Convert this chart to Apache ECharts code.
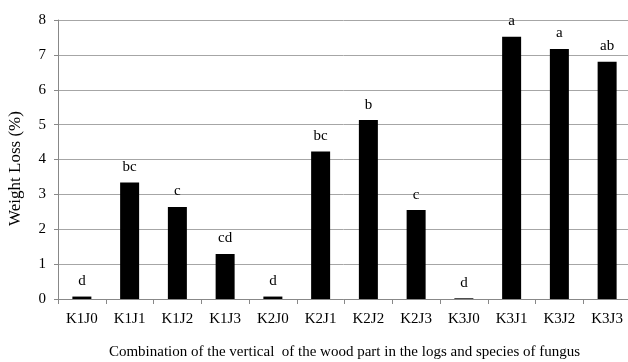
<!DOCTYPE html>
<html>
<head>
<meta charset="utf-8">
<script src="https://cdn.jsdelivr.net/npm/echarts@6/dist/echarts.min.js"></script>
<style>html,body{margin:0;padding:0;background:#fff;}#c{width:628px;height:362px;}</style>
</head>
<body>
<div id="c"></div>
<script>
var categories = ['K1J0','K1J1','K1J2','K1J3','K2J0','K2J1','K2J2','K2J3','K3J0','K3J1','K3J2','K3J3'];
var weightLoss = [0.07, 3.34, 2.64, 1.29, 0.07, 4.23, 5.13, 2.55, 0.02, 7.52, 7.17, 6.80];
var letters = ['d','bc','c','cd','d','bc','b','c','d','a','a','ab'];
var yTicks = [0, 1, 2, 3, 4, 5, 6, 7, 8];

var font = 'Liberation Serif';
var chart = echarts.init(document.getElementById('c'), null, {renderer: 'canvas'});
chart.setOption({
  animation: false,
  grid: {left: 58, right: -3, top: 20, bottom: 63, containLabel: false, outerBoundsMode: 'none'},
  xAxis: {
    type: 'category',
    data: categories,
    name: 'Combination of the vertical  of the wood part in the logs and species of fungus',
    nameLocation: 'middle',
    nameGap: 46,
    nameTextStyle: {fontFamily: font, fontSize: 15, color: '#000'},
    axisLine: {lineStyle: {color: '#888', width: 1}},
    axisTick: {show: true, length: 5, lineStyle: {color: '#888'}},
    axisLabel: {fontFamily: font, fontSize: 15, color: '#000', margin: 13}
  },
  yAxis: {
    type: 'value',
    min: yTicks[0],
    max: yTicks[yTicks.length - 1],
    interval: 1,
    name: 'Weight Loss (%)',
    nameLocation: 'middle',
    nameGap: 34,
    nameTextStyle: {fontFamily: font, fontSize: 17, color: '#000', padding: [0, 18, 0, 0]},
    axisLine: {show: true, lineStyle: {color: '#888'}},
    axisTick: {show: true, length: 4, lineStyle: {color: '#888'}},
    axisLabel: {fontFamily: font, fontSize: 15, color: '#000', margin: 12},
    splitLine: {lineStyle: {color: '#a6a6a6', width: 1}}
  },
  series: [{
    type: 'bar',
    data: weightLoss,
    barWidth: 19,
    itemStyle: {color: '#000'},
    label: {
      show: true,
      position: 'top',
      distance: 8,
      fontFamily: font,
      fontSize: 15,
      color: '#000',
      formatter: function (p) { return letters[p.dataIndex]; }
    }
  }]
});
</script>
</body>
</html>
